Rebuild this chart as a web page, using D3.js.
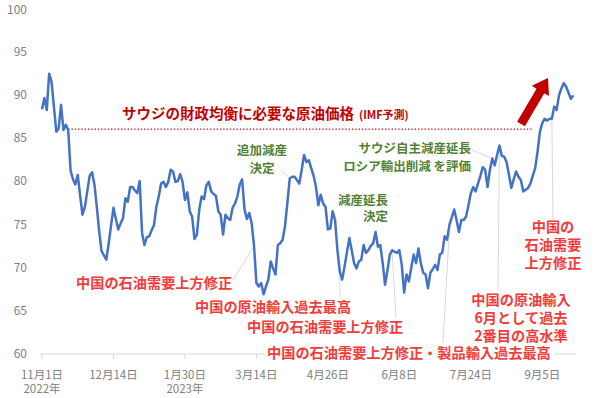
<!DOCTYPE html>
<html>
<head>
<meta charset="utf-8">
<script src="https://cdn.jsdelivr.net/npm/d3@7"></script>
<style>
  body { margin: 0; background: #fff; }
  svg text { font-family: "Noto Sans CJK JP", "Noto Sans", sans-serif; }
</style>
</head>
<body>
<div id="chart"></div>
<script>
// daily crude price (trading days, 2022/11/1 - 2023/9)
var prices = [
  88.3, 89.6, 88.2, 92.4, 91.5, 88.6, 85.7, 86.1, 88.8, 85.9,
  86.5, 85.9, 81.2, 80.2, 79.6, 80.7, 78.3, 76.1, 77.0, 78.8,
  80.6, 81.0, 79.6, 77.0, 74.2, 71.9, 71.4, 70.9, 72.8, 74.9,
  76.9, 75.6, 74.4, 75.1, 75.7, 78.0, 77.6, 79.3, 79.3, 78.9,
  78.6, 80.0, 74.0, 72.6, 73.5, 73.6, 74.3, 74.9, 77.0, 78.2,
  79.7, 79.9, 79.3, 79.9, 81.3, 81.1, 79.9, 80.0, 80.8, 79.9,
  77.8, 78.7, 76.5, 75.9, 73.3, 73.8, 76.7, 78.2, 77.9, 79.5,
  79.9, 78.8, 78.5, 78.3, 76.5, 76.1, 73.8, 76.1, 75.7, 75.5,
  76.9, 77.4, 78.2, 79.6, 80.2, 76.7, 75.6, 76.3, 75.1, 72.5,
  68.2, 67.8, 68.2, 66.9, 67.8, 68.6, 70.7, 69.9, 69.2, 72.6,
  72.8, 73.2, 74.8, 77.5, 80.3, 80.5, 80.5, 80.1, 79.7, 81.3,
  83.0, 82.2, 82.4, 81.5, 80.6, 79.3, 77.2, 78.4, 77.4, 77.0,
  74.4, 74.5, 76.5, 75.5, 72.0, 69.5, 68.6, 70.1, 71.8, 73.4,
  72.0, 70.5, 69.9, 70.7, 70.9, 72.6, 71.7, 72.0, 72.5, 72.8,
  74.1, 72.4, 72.6, 70.5, 68.0, 69.7, 71.5, 72.0, 71.8, 71.7,
  72.0, 70.3, 67.1, 69.2, 68.4, 70.0, 71.5, 70.5, 72.2, 70.5,
  69.4, 69.2, 67.6, 69.4, 69.8, 70.3, 69.7, 71.5, 71.7, 73.6,
  73.2, 74.9, 75.8, 76.7, 75.5, 74.1, 75.5, 75.5, 75.9, 77.2,
  78.6, 79.3, 78.8, 79.7, 80.6, 81.6, 81.3, 79.3, 81.3, 82.6,
  81.8, 83.0, 84.1, 82.9, 82.8, 82.2, 80.7, 79.2, 80.2, 81.1,
  80.5, 80.1, 78.8, 79.0, 79.2, 79.7, 80.6, 81.5, 83.4, 85.7,
  86.7, 87.2, 87.0, 87.2, 87.2, 88.6, 88.2, 89.9, 90.7, 91.3,
  90.9, 90.2, 89.5, 89.9
];

// x tick labels every 30 trading days
var tickIndex = [0, 30, 60, 90, 120, 150, 180, 210];
var tickDates = ["11月1日", "12月14日", "1月30日", "3月14日", "4月26日", "6月8日", "7月24日", "9月5日"];
var tickYears = ["2022年", "", "2023年", "", "", "", "", ""];
var yTicks = [60, 65, 70, 75, 80, 85, 90, 95, 100];

var breakEven = 86.0;   // IMF予測
var breakEvenFrom = 11, breakEvenTo = 206;

var width = 600, height = 398;
var svg = d3.select("#chart").append("svg")
  .attr("width", width)
  .attr("height", height);

var x = d3.scaleLinear().domain([0, prices.length - 1]).range([42, 573.3]);
var y = d3.scaleLinear().domain([60, 100]).range([354, 8]);

var red = "#f23c3c", darkRed = "#c00000", green = "#548235", leader = "#d9d9d9";

// y axis labels (no line)
var yAxis = d3.axisLeft(y).tickValues(yTicks).tickSize(0).tickPadding(0);
var gy = svg.append("g").attr("transform", "translate(27,0)").call(yAxis);
gy.select(".domain").remove();
gy.selectAll("text").attr("fill", "#808080").style("font-size", "12px");
gy.selectAll(".tick").filter(d => d == 100).select("text").attr("dy", "0.45em");

// x axis
var gx = svg.append("g").attr("transform", "translate(0,354)");
gx.append("line").attr("x1", 40).attr("x2", 576).attr("stroke", "#d9d9d9");
gx.selectAll(".tk").data(tickIndex).enter().append("line")
  .attr("x1", d => x(d)).attr("x2", d => x(d))
  .attr("y1", 0).attr("y2", 5).attr("stroke", "#d9d9d9");
gx.selectAll(".lb").data(tickIndex).enter().append("text")
  .attr("x", d => x(d)).attr("y", 25)
  .attr("text-anchor", "middle").attr("fill", "#808080").style("font-size", "11.5px")
  .text((d, i) => tickDates[i]);
gx.selectAll(".yr").data(tickIndex).enter().append("text")
  .attr("x", d => x(d)).attr("y", 39)
  .attr("text-anchor", "middle").attr("fill", "#808080").style("font-size", "11.5px")
  .text((d, i) => tickYears[i]);

// leader lines
function lead(x1, y1, x2, y2) {
  svg.append("line").attr("x1", x1).attr("y1", y1).attr("x2", x2).attr("y2", y2)
    .attr("stroke", leader).attr("stroke-width", 1);
}
lead(233, 280, x(89), y(72.5));
lead(340, 298, x(125), y(69.5) + 4);
lead(396, 318, x(147), y(72.0) + 4);
lead(443, 343, x(171), y(74.9) + 4);
lead(498, 290, x(192), y(84.1));
lead(553, 220, x(214), y(87.2));
lead(281, 170, x(104), y(80.3));
lead(472, 150, x(189), y(82.6));

// break-even dotted line
svg.append("line")
  .attr("x1", x(breakEvenFrom)).attr("x2", x(breakEvenTo))
  .attr("y1", y(breakEven)).attr("y2", y(breakEven))
  .attr("stroke", darkRed).attr("stroke-width", 1.3).attr("stroke-dasharray", "1.3,2");

// price line
var line = d3.line().x((d, i) => x(i)).y(d => y(d));
svg.append("path").datum(prices)
  .attr("d", line).attr("fill", "none")
  .attr("stroke", "#4472c4").attr("stroke-width", 2.5).attr("stroke-linejoin", "round");

// title over the dotted line
var t = svg.append("text").attr("x", 122).attr("y", 119)
  .attr("fill", darkRed).style("font-weight", "bold").style("font-size", "14.5px");
t.append("tspan").text("サウジの財政均衡に必要な原油価格");
t.append("tspan").attr("dx", 5).style("font-size", "11px").text("(IMF予測)");

// arrow
function arrow(x1, y1, x2, y2, bw, hw, hl) {
  var dx = x2 - x1, dy = y2 - y1, L = Math.sqrt(dx * dx + dy * dy);
  var ux = dx / L, uy = dy / L, px = -uy, py = ux;
  var bx = x2 - ux * hl, by = y2 - uy * hl;
  var pts = [
    [x1 + px * bw / 2, y1 + py * bw / 2], [bx + px * bw / 2, by + py * bw / 2],
    [bx + px * hw / 2, by + py * hw / 2], [x2, y2],
    [bx - px * hw / 2, by - py * hw / 2], [bx - px * bw / 2, by - py * bw / 2],
    [x1 - px * bw / 2, y1 - py * bw / 2]
  ];
  svg.append("path").attr("d", "M" + pts.join("L") + "Z").attr("fill", darkRed);
}
arrow(521, 124, 548, 78, 9, 20, 15);

// annotations
function label(lines, xx, yy, anchor, color, size, lh) {
  var tx = svg.append("text").attr("fill", color).attr("text-anchor", anchor)
    .style("font-weight", "bold").style("font-size", size + "px");
  lines.forEach(function(s, i) {
    tx.append("tspan").attr("x", xx).attr("y", yy + i * lh).text(s);
  });
  return tx;
}
label(["追加減産", "決定"], 262, 155, "middle", green, 12.5, 18);
label(["サウジ自主減産延長", "ロシア輸出削減 を評価"], 471, 153, "end", green, 12.5, 17.5);
label(["減産延長", "決定"], 388, 205, "end", green, 12.5, 16);

label(["中国の石油需要上方修正"], 76, 288, "start", red, 14.2, 0);
label(["中国の原油輸入過去最高"], 195, 312, "start", red, 14.2, 0);
label(["中国の石油需要上方修正"], 247, 332, "start", red, 14.2, 0);
svg.append("rect").attr("x", 264).attr("y", 344).attr("width", 290).attr("height", 19).attr("fill", "#fff");
label(["中国の石油需要上方修正・製品輸入過去最高"], 267, 358, "start", red, 14.2, 0);
label(["中国の原油輸入", "6月として過去", "2番目の高水準"], 521, 305, "middle", red, 14.2, 17.8);
label(["中国の", "石油需要", "上方修正"], 553, 232, "middle", red, 14.2, 18);
</script>
</body>
</html>
